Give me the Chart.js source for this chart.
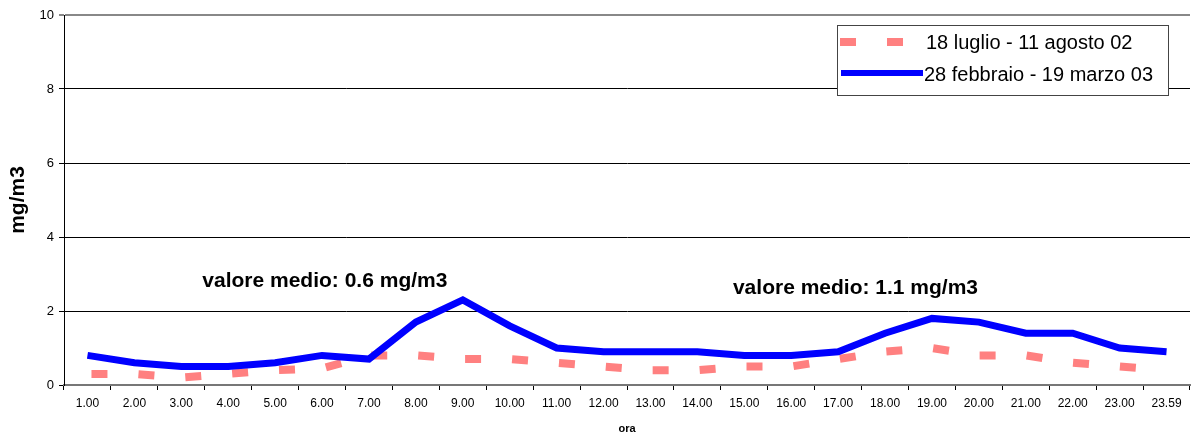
<!DOCTYPE html>
<html><head><meta charset="utf-8">
<style>html,body{margin:0;padding:0;background:#fff}#wrap{width:1191px;height:436px;position:relative}</style>
<script src="https://cdn.jsdelivr.net/npm/chart.js@4/dist/chart.umd.min.js"></script>
</head><body><div id="wrap"><canvas id="c" width="1191" height="436"></canvas></div>
<script>
const categories = ["1.00","2.00","3.00","4.00","5.00","6.00","7.00","8.00","9.00","10.00","11.00","12.00","13.00","14.00","15.00","16.00","17.00","18.00","19.00","20.00","21.00","22.00","23.00","23.59"];
const summerLabel = "18 luglio - 11 agosto 02";
const summer = [0.3,0.3,0.2,0.3,0.4,0.45,0.8,0.8,0.7,0.7,0.6,0.5,0.4,0.4,0.5,0.5,0.7,0.9,1.0,0.8,0.8,0.6,0.5,0.4];
const winterLabel = "28 febbraio - 19 marzo 03";
const winter = [0.8,0.6,0.5,0.5,0.6,0.8,0.7,1.7,2.3,1.6,1.0,0.9,0.9,0.9,0.8,0.8,0.9,1.4,1.8,1.7,1.4,1.4,1.0,0.9];
const yTicks = [0,2,4,6,8,10];
const notes = [
  {text:"valore medio: 0.6 mg/m3", x:5.06, y:2.81},
  {text:"valore medio: 1.1 mg/m3", x:16.37, y:2.62}
];
const FONT = "Liberation Sans, Arial, sans-serif";

const overlay = {
  id:'overlay',
  afterDraw(chart){
    const ctx = chart.ctx, xs = chart.scales.x, ys = chart.scales.y;
    ctx.save();
    ctx.fillStyle = '#000';
    ctx.font = 'bold 21px ' + FONT;
    ctx.textAlign = 'center'; ctx.textBaseline = 'middle';
    notes.forEach(n => {
      const px = xs.getPixelForValue(n.x), py = ys.getPixelForValue(n.y);
      ctx.fillText(n.text, px, py);
    });
    // legend box
    const lx = 837, ly = 25, lw = 331, lh = 70;
    ctx.fillStyle = '#fff';
    ctx.fillRect(lx, ly, lw, lh);
    ctx.strokeStyle = '#444'; ctx.lineWidth = 1;
    ctx.strokeRect(lx + 0.5, ly + 0.5, lw, lh);
    ctx.lineCap = 'butt';
    ctx.strokeStyle = '#ff8080'; ctx.lineWidth = 8;
    ctx.setLineDash([16, 31]);
    ctx.beginPath(); ctx.moveTo(840, 42); ctx.lineTo(922, 42); ctx.stroke();
    ctx.setLineDash([]);
    ctx.strokeStyle = '#0000ff'; ctx.lineWidth = 6;
    ctx.beginPath(); ctx.moveTo(841, 73); ctx.lineTo(923, 73); ctx.stroke();
    ctx.fillStyle = '#000';
    ctx.font = '20px ' + FONT;
    ctx.textAlign = 'left';
    ctx.fillText(summerLabel, 926, 43);
    ctx.fillText(winterLabel, 924, 75);
    ctx.restore();
  }
};

new Chart(document.getElementById('c'), {
  type:'line',
  data:{
    labels: categories,
    datasets:[
      {label: summerLabel, data: summer, borderColor:'#ff8080', borderWidth:8, borderDash:[16,31], borderDashOffset:-4, pointRadius:0, tension:0, fill:false, borderCapStyle:'butt', order:2},
      {label: winterLabel, data: winter, borderColor:'#0000ff', borderWidth:7, pointRadius:0, tension:0, fill:false, borderJoinStyle:'miter', order:1}
    ]
  },
  options:{
    responsive:false, animation:false,
    layout:{padding:{left:0,right:1,top:15,bottom:0}},
    plugins:{legend:{display:false}, tooltip:{enabled:false}},
    scales:{
      x:{
        type:'category', offset:true,
        grid:{display:true, offset:true, drawOnChartArea:false, drawTicks:true, tickLength:5, color:'#000', lineWidth:1},
        border:{display:true, color:'#777', width:2},
        ticks:{color:'#000', font:{family:FONT, size:12}, padding:6, maxRotation:0, autoSkip:false},
        title:{display:true, text:'ora', color:'#000', font:{family:FONT, size:11, weight:'bold'}, padding:{top:6,bottom:0}},
        afterFit(s){ s.height = 51; }
      },
      y:{
        min:0, max:10,
        afterBuildTicks(s){ s.ticks = yTicks.map(v => ({value:v})); },
        grid:{color:(c)=> c.tick && c.tick.value === 10 ? '#888' : '#000', lineWidth:(c)=> c.tick && c.tick.value===10 ? 2 : 1, tickLength:5, drawTicks:true},
        border:{display:true, color:'#000', width:1},
        ticks:{color:'#000', font:{family:FONT, size:13}, padding:5},
        title:{display:true, text:'mg/m3', color:'#000', font:{family:FONT, size:21, weight:'bold'}, padding:{top:6,bottom:8}},
        afterFit(s){ s.width = 64; }
      }
    }
  },
  plugins:[overlay]
});
</script></body></html>
